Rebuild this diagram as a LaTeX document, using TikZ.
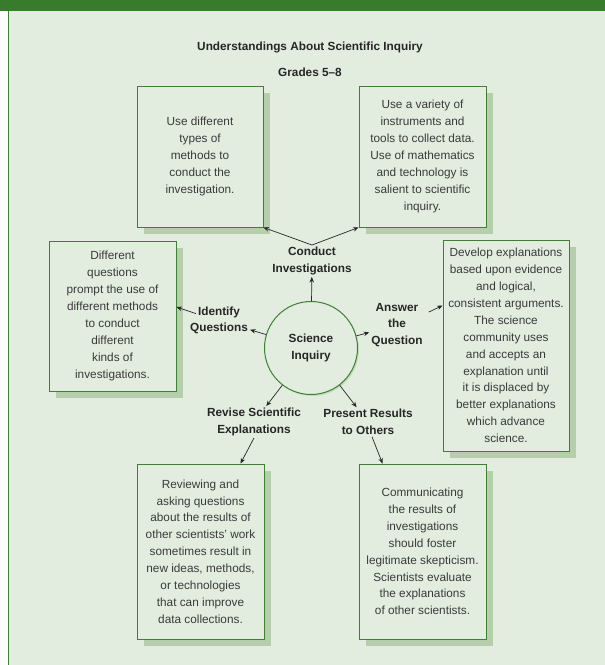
\documentclass[tikz,border=0pt]{standalone}
\usepackage{fontspec}
\setmainfont{Liberation Sans}
\usetikzlibrary{arrows.meta, shadows, calc}

\definecolor{bandgreen}{HTML}{377C2B}
\definecolor{panelgreen}{HTML}{E2EDE0}
\definecolor{linegreen}{HTML}{3F8035}
\definecolor{shadegreen}{HTML}{B6CEAB}
\definecolor{bodytext}{HTML}{3A3A3A}
\definecolor{headtext}{HTML}{262626}

\begin{document}
\begin{tikzpicture}[
    x=1pt, y=-1pt,
    box/.style={rectangle, draw=linegreen, line width=0.9pt, fill=panelgreen, align=center, text=bodytext, font=\fontsize{11.8}{16.9}\selectfont, inner sep=0pt, general shadow={fill=shadegreen, shadow xshift=6.5pt, shadow yshift=-6.5pt}},
    hub/.style={circle, draw=linegreen, line width=1pt, fill=panelgreen, minimum size=93pt, align=center, text=headtext, font=\bfseries\fontsize{11.8}{16.5}\selectfont, general shadow={fill=shadegreen, opacity=0.6, shadow xshift=1.5pt, shadow yshift=-1.5pt}},
    tag/.style={align=center, text=headtext, font=\bfseries\fontsize{11.8}{16.5}\selectfont, inner sep=2pt},
    arrow/.style={-{Stealth[length=5.5pt, width=4.5pt]}, line width=0.7pt, draw=headtext}
]

% Page and panel
\useasboundingbox (0,0) rectangle (605,665);
\fill[white] (0,0) rectangle (605,665);
\fill[panelgreen] (8,11) rectangle (605,665);
\draw[linegreen, line width=0.8pt] (8,11) -- (8,665);
\fill[bandgreen] (0,0) rectangle (605,11);

% Heading
\node[tag] (title) at (310,47) {Understandings About Scientific Inquiry};
\node[tag] (grades) at (310,72) {Grades 5--8};

% Boxes
\node[box, minimum width=126pt, minimum height=141pt] (methods) at (200,156.5) {Use different\\types of\\methods to\\conduct the\\investigation.};
\node[box, minimum width=127pt, minimum height=141pt] (tools) at (422.5,156.5) {Use a variety of\\instruments and\\tools to collect data.\\Use of mathematics\\and technology is\\salient to scientific\\inquiry.};
\node[box, minimum width=127pt, minimum height=150pt] (questions) at (112.5,316) {Different\\questions\\prompt the use of\\different methods\\to conduct\\different\\kinds of\\investigations.};
\node[box, minimum width=126pt, minimum height=211pt] (explain) at (506,345.5) {Develop explanations\\based upon evidence\\and logical,\\consistent arguments.\\The science\\community uses\\and accepts an\\explanation until\\it is displaced by\\better explanations\\which advance\\science.};
\node[box, minimum width=127pt, minimum height=175pt] (review) at (200.5,551.5) {Reviewing and\\asking questions\\about the results of\\other scientists' work\\sometimes result in\\new ideas, methods,\\or technologies\\that can improve\\data collections.};
\node[box, minimum width=127pt, minimum height=175pt] (communicate) at (422.5,551.5) {Communicating\\the results of\\investigations\\should foster\\legitimate skepticism.\\Scientists evaluate\\the explanations\\of other scientists.};

% Centre
\node[hub] (inquiry) at (311,348) {Science\\Inquiry};

% Labels
\node[tag] (conduct) at (312,261) {Conduct\\Investigations};
\node[tag] (identify) at (219,320.5) {Identify\\Questions};
\node[tag] (answer) at (397,325) {Answer\\the\\Question};
\node[tag] (revise) at (254,422) {Revise Scientific\\Explanations};
\node[tag] (present) at (368,422) {Present Results\\to Others};

% Connections
\draw[arrow] (inquiry) -- (conduct);
\draw[arrow] (conduct.north) -- (methods.south east);
\draw[arrow] (conduct.north) -- (tools.south west);
\draw[arrow] (inquiry) -- (identify);
\draw[arrow] ([shift={(8pt,-9pt)}]identify.north west) -- ([yshift=9pt]questions.east);
\draw[arrow] (inquiry) -- (answer);
\draw[arrow] ([shift={(4pt,-11pt)}]answer.north east) -- ([yshift=40pt]explain.west);
\draw[arrow] (inquiry) -- (revise);
\draw[arrow] (revise.south) -- ([xshift=40pt]review.north);
\draw[arrow] (inquiry) -- (present);
\draw[arrow] ([xshift=4pt]present.south) -- ([xshift=-40pt]communicate.north);

\end{tikzpicture}
\end{document}
